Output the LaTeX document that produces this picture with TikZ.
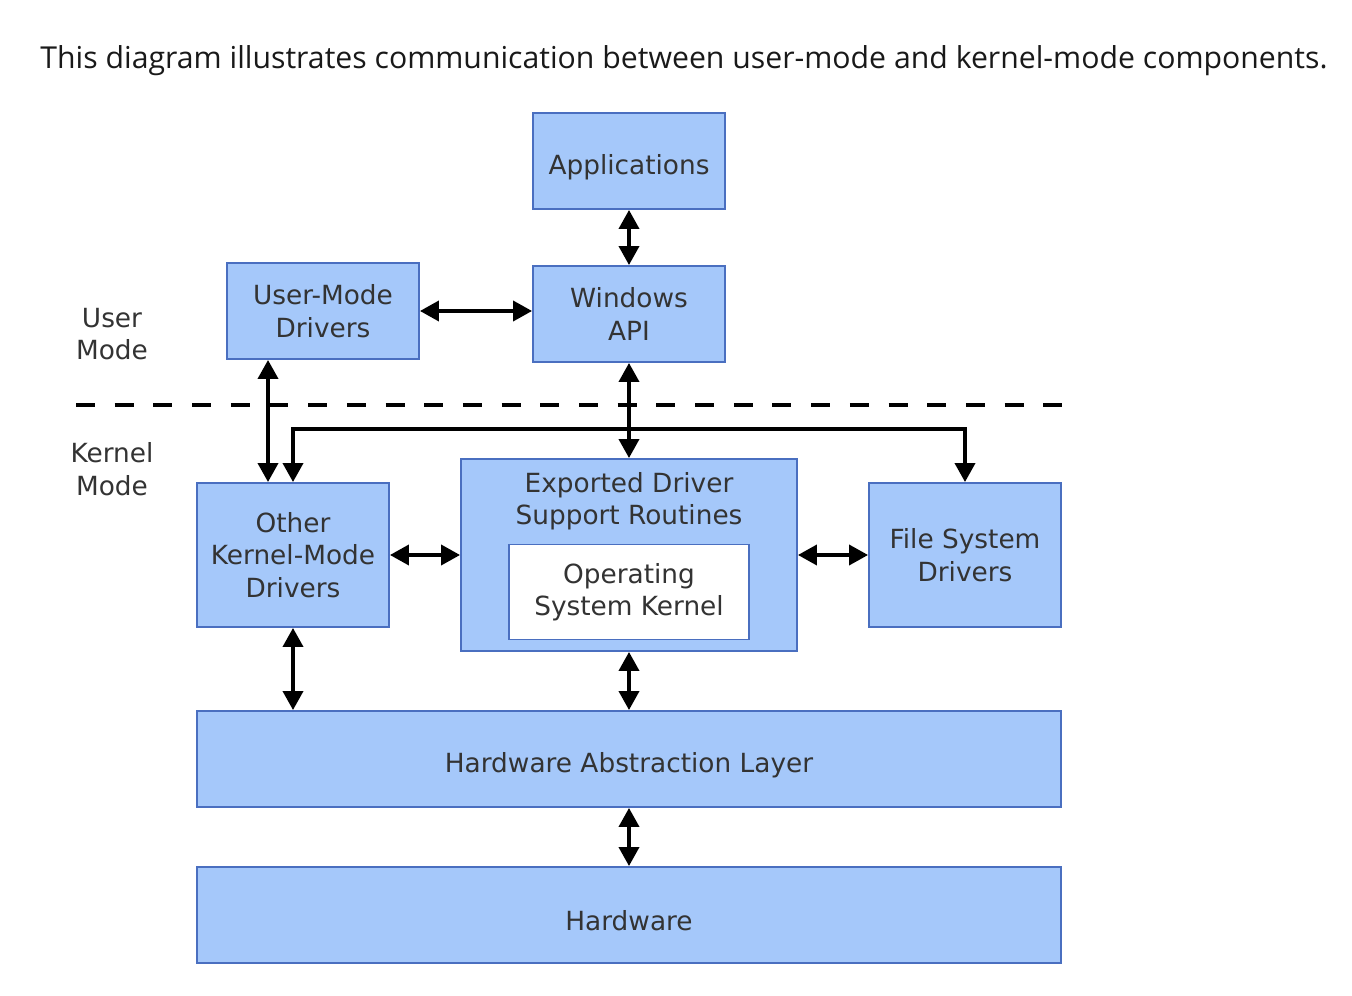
\documentclass[tikz,border=0pt]{standalone}
\usepackage{fontspec}
\setmainfont{DejaVu Sans}
\newfontfamily\titlefont{Open Sans}
\usetikzlibrary{arrows.meta}
\definecolor{boxfill}{HTML}{A5C8FA}
\definecolor{boxline}{HTML}{4A6FC0}
\definecolor{boxtext}{HTML}{333333}
\begin{document}
\begin{tikzpicture}[x = 0.02cm, y = -0.02cm,
    blk/.style = {draw = boxline, fill = boxfill, line width = 1.1pt, inner sep = 0pt,
      minimum width = 3.84cm, minimum height = 1.92cm, align = center,
      text = boxtext, font = \fontsize{15}{18.5}\selectfont,
      execute at begin node = {\rule{0pt}{18pt}}},
    lbl/.style = {align = center, text = boxtext, font = \fontsize{15}{18.5}\selectfont},
    arr/.style = {line width = 2.1pt, {Triangle[width = 0.4cm, length = 0.38cm]}-{Triangle[width = 0.4cm, length = 0.38cm]}}]
      \useasboundingbox (0, 0) rectangle (1352, 996);
      \node[text = black!90, font = \titlefont\fontsize{17.2}{20}\selectfont] (title) at (684, 61) {This diagram illustrates communication between user-mode and kernel-mode components.};
      \node[blk] (apps) at (629, 161) {Applications};
      \node[blk] (winapi) at (629, 314) {Windows\\API};
      \node[blk] (umd) at (323, 311) {User-Mode\\Drivers};
      \node[lbl] (usr) at (112, 334) {User\\Mode};
      \node[lbl] (krn) at (112, 469) {Kernel\\Mode};
      \draw[line width = 2pt, dash pattern = on 0.38cm off 0.394cm] (76, 405) -- (1062, 405);
      \node[blk, minimum height = 2.88cm] (okmd) at (293, 555) {Other\\Kernel-Mode\\Drivers};
      \node[blk, minimum width = 6.72cm, minimum height = 3.84cm] (edsr) at (629, 555) {};
      \node[lbl] (edsrtxt) at (629, 501) {Exported Driver\\Support Routines};
      \node[blk, fill = white, minimum width = 4.8cm, minimum height = 1.9cm] (kern) at (629, 592) {Operating\\System Kernel};
      \node[blk, minimum height = 2.88cm] (fsd) at (965, 555) {File System\\Drivers};
      \node[blk, minimum width = 17.28cm] (hal) at (629, 759) {Hardware Abstraction Layer};
      \node[blk, minimum width = 17.28cm] (hw) at (629, 915) {Hardware};
      \coordinate (bus) at (292, 429);
      \draw[arr] (apps) -- (winapi);
      \draw[arr] (umd.east) -- (winapi.west |- umd.east);
      \draw[arr] ([xshift = -1.1cm]umd.south) -- ([xshift = -1.1cm]umd.south |- okmd.north);
      \draw[arr] (winapi) -- (edsr);
      \draw[arr] (okmd.north) -- (okmd.north |- bus) -| (fsd.north);
      \draw[arr] (okmd) -- (edsr);
      \draw[arr] (edsr) -- (fsd);
      \draw[arr] (okmd.south) -- (okmd.south |- hal.north);
      \draw[arr] (edsr) -- (hal);
      \draw[arr] (hal) -- (hw);
\end{tikzpicture}
\end{document}
